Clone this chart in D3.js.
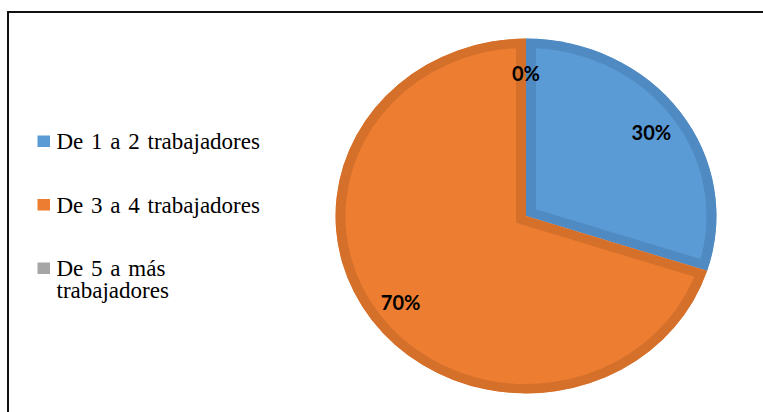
<!DOCTYPE html>
<html>
<head>
<meta charset="utf-8">
<script src="https://cdn.jsdelivr.net/npm/d3@7/dist/d3.min.js"></script>
<style>
  html, body { margin: 0; padding: 0; background: #fff; }
  svg { display: block; }
</style>
</head>
<body>
<svg id="chart" width="763" height="412"></svg>
<script>
// Number of workers per business
const categories = ["De 1 a 2 trabajadores", "De 3 a 4 trabajadores", "De 5 a más trabajadores"];
const values = [30, 70, 0];
const valueLabels = ["30%", "70%", "0%"];
const fillColors = ["#5B9BD5", "#ED7D31", "#A5A5A5"];
const edgeColors = ["#4F8AC2", "#D5702B", "#8F8F8F"];
// Legend entries, wrapped as they appear
const legendLines = [["De 1 a 2 trabajadores"], ["De 3 a 4 trabajadores"], ["De 5 a más", "trabajadores"]];

const serifFont = '"Liberation Serif", "Times New Roman", serif';
const labelFont = '"Lato", "Open Sans", sans-serif';

const svg = d3.select("#chart");

// Frame
svg.append("rect")
  .attr("x", 8).attr("y", 12)
  .attr("width", 800).attr("height", 450)
  .attr("fill", "none")
  .attr("stroke", "#111")
  .attr("stroke-width", 2);

// Pie (slightly flattened vertically)
const cx = 526, cy = 216, radius = 190.5, yScale = 177.4 / 190.5;
const pieTransform = `translate(${cx},${cy}) scale(1,${yScale})`;

const pie = d3.pie().sort(null).value(d => d)
  .startAngle(0).endAngle(2 * Math.PI);
const arcs = pie(values);

const arc = d3.arc().innerRadius(0).outerRadius(radius);
const labelArc = d3.arc().innerRadius(155).outerRadius(155);

const visible = arcs.filter(a => a.endAngle - a.startAngle > 0);

// Each slice is clipped to itself so its darker border sits inside the edge
const defs = svg.append("defs");
defs.selectAll("clipPath")
  .data(visible)
  .join("clipPath")
  .attr("id", d => "slice-clip-" + d.index)
  .append("path")
  .attr("transform", pieTransform)
  .attr("d", arc);

svg.append("g").selectAll("g")
  .data(visible)
  .join("g")
  .attr("clip-path", d => `url(#slice-clip-${d.index})`)
  .append("path")
  .attr("transform", pieTransform)
  .attr("d", arc)
  .attr("fill", d => fillColors[d.index])
  .attr("stroke", d => edgeColors[d.index])
  .attr("stroke-width", 20);

// Value labels
svg.append("g").selectAll("text")
  .data(arcs)
  .join("text")
  .attr("x", d => cx + labelArc.centroid(d)[0])
  .attr("y", d => cy + labelArc.centroid(d)[1] * yScale + 2)
  .attr("text-anchor", "middle")
  .attr("dy", "0.36em")
  .style("font-family", labelFont)
  .style("font-weight", "bold")
  .style("font-size", "20px")
  .attr("fill", "#000")
  .text(d => valueLabels[d.index]);

// Legend
const legendY = [135.5, 199, 262.5];
const legend = svg.append("g");
categories.forEach((c, i) => {
  legend.append("rect")
    .attr("x", 37.5).attr("y", legendY[i])
    .attr("width", 12.5).attr("height", 11.5)
    .attr("fill", fillColors[i]);
  const t = legend.append("text")
    .attr("x", 56.5)
    .attr("y", legendY[i] + 13.8)
    .style("font-family", serifFont)
    .style("font-size", "23px")
    .style("word-spacing", "2px")
    .attr("fill", "#000");
  legendLines[i].forEach((line, j) => {
    t.append("tspan")
      .attr("x", 56.5)
      .attr("dy", j === 0 ? 0 : 21.8)
      .text(line);
  });
});
</script>
</body>
</html>
